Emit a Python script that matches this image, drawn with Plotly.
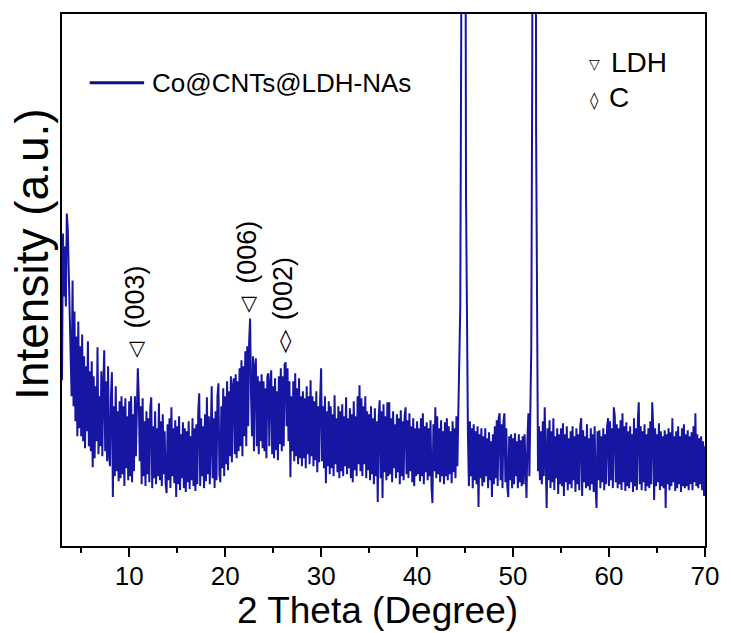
import numpy as np
import plotly.graph_objects as go

# ---- data (intensity, arbitrary units) on a 0.1 degree 2-theta scan grid ----
two_theta_start = 3.0
two_theta_step = 0.1

counts_03_10 = [166, 313, 250, 300, 240, 333, 318, 270, 232, 200,
                150, 266, 140, 235, 125, 210, 110, 225, 118, 200,
                110, 212, 105, 190, 98, 180, 115, 205, 100, 175,
                95, 185, 79, 170, 88, 160, 105, 199, 92, 150,
                100, 175, 90, 160, 196, 95, 165, 85, 180, 92,
                80, 150, 174, 49, 140, 70, 160, 75, 135, 65,
                145, 68, 150, 72, 140, 60, 148, 78, 130, 66]
counts_10_20 = [145, 70, 150, 64, 132, 75, 150, 90, 160, 178,
                150, 85, 140, 62, 148, 70, 125, 60, 135, 72,
                128, 64, 138, 149, 58, 120, 68, 135, 62, 118,
                70, 143, 66, 125, 60, 132, 72, 115, 62, 53,
                122, 66, 128, 58, 139, 70, 118, 63, 126, 49,
                120, 62, 130, 56, 112, 68, 124, 58, 118, 54,
                115, 64, 125, 57, 110, 66, 128, 60, 118, 55,
                122, 62, 135, 153, 60, 128, 70, 120, 58, 132,
                65, 149, 72, 130, 62, 140, 160, 68, 128, 58,
                135, 66, 150, 163, 72, 64, 140, 78, 158, 70]
counts_20_30 = [150, 82, 165, 76, 155, 90, 170, 84, 160, 168,
                92, 172, 88, 165, 95, 178, 100, 186, 90, 180,
                110, 195, 100, 200, 120, 205, 228, 150, 110, 190,
                95, 180, 188, 100, 170, 92, 165, 105, 172, 98,
                165, 95, 158, 88, 170, 173, 100, 162, 176, 92,
                160, 88, 168, 96, 155, 86, 170, 102, 178, 95,
                170, 100, 182, 184, 120, 178, 105, 165, 69, 150,
                95, 165, 85, 173, 90, 158, 82, 168, 88, 150,
                80, 155, 88, 148, 78, 160, 92, 150, 82, 166,
                90, 150, 80, 145, 86, 155, 74, 140, 84, 148]
counts_30_40 = [178, 85, 140, 78, 150, 63, 135, 80, 145, 72,
                140, 78, 132, 70, 151, 82, 128, 74, 140, 68,
                135, 75, 142, 70, 130, 80, 149, 72, 128, 78,
                138, 68, 132, 64, 145, 76, 130, 70, 150, 82,
                161, 75, 148, 70, 140, 82, 150, 68, 135, 76,
                132, 66, 140, 72, 128, 62, 138, 70, 125, 44,
                130, 146, 68, 135, 48, 142, 74, 130, 66, 144,
                70, 144, 72, 128, 64, 135, 78, 122, 68, 132,
                74, 128, 62, 136, 70, 125, 66, 130, 139, 72,
                126, 68, 133, 75, 120, 64, 128, 60, 118, 70]
counts_40_50 = [125, 72, 118, 65, 128, 70, 133, 62, 120, 74,
                124, 66, 118, 70, 126, 60, 43, 122, 75, 139,
                68, 130, 72, 118, 64, 126, 70, 115, 62, 124,
                70, 128, 66, 120, 72, 115, 63, 125, 74, 118,
                68, 130, 80, 136, 175, 240, 520, 1500, 2500, 2200,
                900, 350, 190, 110, 60, 125, 70, 118, 58, 122,
                66, 115, 62, 120, 39, 112, 68, 118, 60, 110,
                64, 118, 70, 108, 58, 114, 66, 105, 49, 112,
                62, 120, 68, 126, 60, 128, 133, 66, 122, 58,
                125, 133, 64, 118, 60, 49, 110, 66, 112, 58]
counts_50_60 = [108, 62, 113, 70, 105, 58, 112, 64, 106, 60,
                110, 62, 112, 66, 48, 108, 133, 70, 140, 200,
                480, 1600, 2500, 1400, 420, 160, 75, 120, 66, 115,
                62, 125, 70, 139, 60, 38, 118, 66, 126, 58,
                115, 64, 128, 56, 110, 68, 118, 52, 112, 62,
                118, 60, 123, 50, 112, 64, 120, 56, 108, 62,
                115, 58, 120, 66, 110, 54, 118, 62, 112, 56,
                120, 128, 50, 116, 64, 110, 58, 122, 60, 108,
                56, 118, 62, 112, 54, 120, 60, 38, 115, 66,
                116, 58, 110, 64, 118, 56, 112, 62, 120, 128]
counts_60_70 = [60, 125, 66, 118, 58, 139, 130, 64, 122, 58,
                118, 62, 126, 56, 133, 64, 120, 55, 124, 60,
                115, 58, 120, 64, 112, 54, 128, 60, 118, 56,
                125, 144, 62, 120, 56, 115, 64, 122, 55, 112,
                60, 118, 58, 125, 62, 144, 120, 46, 118, 60,
                112, 64, 123, 56, 115, 60, 110, 58, 116, 38,
                112, 62, 118, 56, 114, 60, 128, 64, 110, 55,
                115, 58, 120, 62, 110, 54, 118, 60, 122, 58,
                112, 60, 116, 56, 110, 62, 114, 56, 120, 64,
                133, 60, 112, 58, 108, 62, 110, 56, 105, 50,
                100]

series_name = "Co@CNTs@LDH-NAs"
x_tick_values = [10, 20, 30, 40, 50, 60, 70]
x_tick_labels = ["10", "20", "30", "40", "50", "60", "70"]

# peak labels: (2theta, intensity, symbol, label)
peak_marks = [
    (10.86, 198, "\u25BD", "(003)"),
    (22.55, 243, "\u25BD", "(006)"),
    (26.35, 206, "\u25CA", "(002)"),
]

intensity = counts_03_10 + counts_10_20 + counts_20_30 + counts_30_40 + counts_40_50 + counts_50_60 + counts_60_70
two_theta = np.round(two_theta_start + two_theta_step * np.arange(len(intensity)), 2)

# ---- figure ----
W, H = 731, 633
L, R, T, B = 62, 19, 13, 87
pw, ph = W - L - R, H - T - B

def px(xp):
    return (xp - L) / pw

def py(yp):
    return (H - B - yp) / ph

FONT = "Liberation Sans, Arial, sans-serif"
LINE_COLOR = "#1616a2"

fig = go.Figure()
fig.add_trace(go.Scatter(
    x=two_theta, y=intensity, mode="lines", name=series_name,
    line=dict(color=LINE_COLOR, width=2), showlegend=False,
))

fig.update_layout(
    width=W, height=H,
    margin=dict(l=L, r=R, t=T, b=B),
    paper_bgcolor="white", plot_bgcolor="white",
    font=dict(family=FONT, color="black"),
)
fig.update_xaxes(
    range=[3, 70], tickvals=x_tick_values, ticktext=x_tick_labels,
    ticks="outside", ticklen=9, tickwidth=2, tickcolor="black",
    minor=dict(ticks="outside", ticklen=5, tickwidth=2, tickcolor="black", dtick=5, tick0=0),
    showline=True, linecolor="black", linewidth=2, mirror=True,
    showgrid=False, zeroline=False, ticklabelstandoff=-3,
    tickfont=dict(size=26, family=FONT, color="black"),
)
fig.update_yaxes(
    range=[0, 533], showticklabels=False, ticks="",
    showline=True, linecolor="black", linewidth=2, mirror=True,
    showgrid=False, zeroline=False,
)

ann = []
# axis titles
ann.append(dict(text="2 Theta (Degree)", x=px(381), y=py(611), xref="paper", yref="paper",
                showarrow=False, font=dict(size=37, family=FONT), xanchor="center", yanchor="middle"))
ann.append(dict(text="Intensity (a.u.)", x=px(31), y=py(254), xref="paper", yref="paper",
                showarrow=False, textangle=-90, font=dict(size=46, family=FONT),
                xanchor="center", yanchor="middle"))
# series legend (manual)
ann.append(dict(text=series_name, x=px(151), y=py(82), xref="paper", yref="paper",
                showarrow=False, font=dict(size=26, family=FONT), xanchor="left", yanchor="middle"))
# phase key
ann.append(dict(text="\u25BD", x=px(600), y=py(63), xref="paper", yref="paper",
                showarrow=False, font=dict(size=14, family="DejaVu Sans"), xanchor="center", yanchor="middle"))
ann.append(dict(text="LDH", x=px(615), y=py(62), xref="paper", yref="paper",
                showarrow=False, font=dict(size=28, family=FONT), xanchor="left", yanchor="middle"))
ann.append(dict(text="\u25CA", x=px(600), y=py(99), xref="paper", yref="paper",
                showarrow=False, font=dict(size=17, family="DejaVu Sans"), xanchor="center", yanchor="middle"))
ann.append(dict(text="C", x=px(613), y=py(97), xref="paper", yref="paper",
                showarrow=False, font=dict(size=28, family=FONT), xanchor="left", yanchor="middle"))

# peak markers
for xv, yv, sym, lab in peak_marks:
    sym_size = 21 if sym == "\u25BD" else 23
    ann.append(dict(text=sym, x=xv, y=yv, xref="x", yref="y", showarrow=False,
                    font=dict(size=sym_size, family="DejaVu Sans"), xanchor="center", yanchor="middle"))
    ann.append(dict(text=lab, x=xv - 0.3, y=yv + 18, xref="x", yref="y", showarrow=False,
                    textangle=-90, font=dict(size=27, family=FONT), xanchor="center", yanchor="bottom"))

fig.update_layout(annotations=ann)
fig.add_shape(type="line", xref="paper", yref="paper",
              x0=px(90), x1=px(145), y0=py(82), y1=py(82),
              line=dict(color="#10107a", width=3))

fig.write_html("out.html", config={"displayModeBar": False},
               post_script="document.body.style.margin='0px';document.body.style.overflow='hidden';")
